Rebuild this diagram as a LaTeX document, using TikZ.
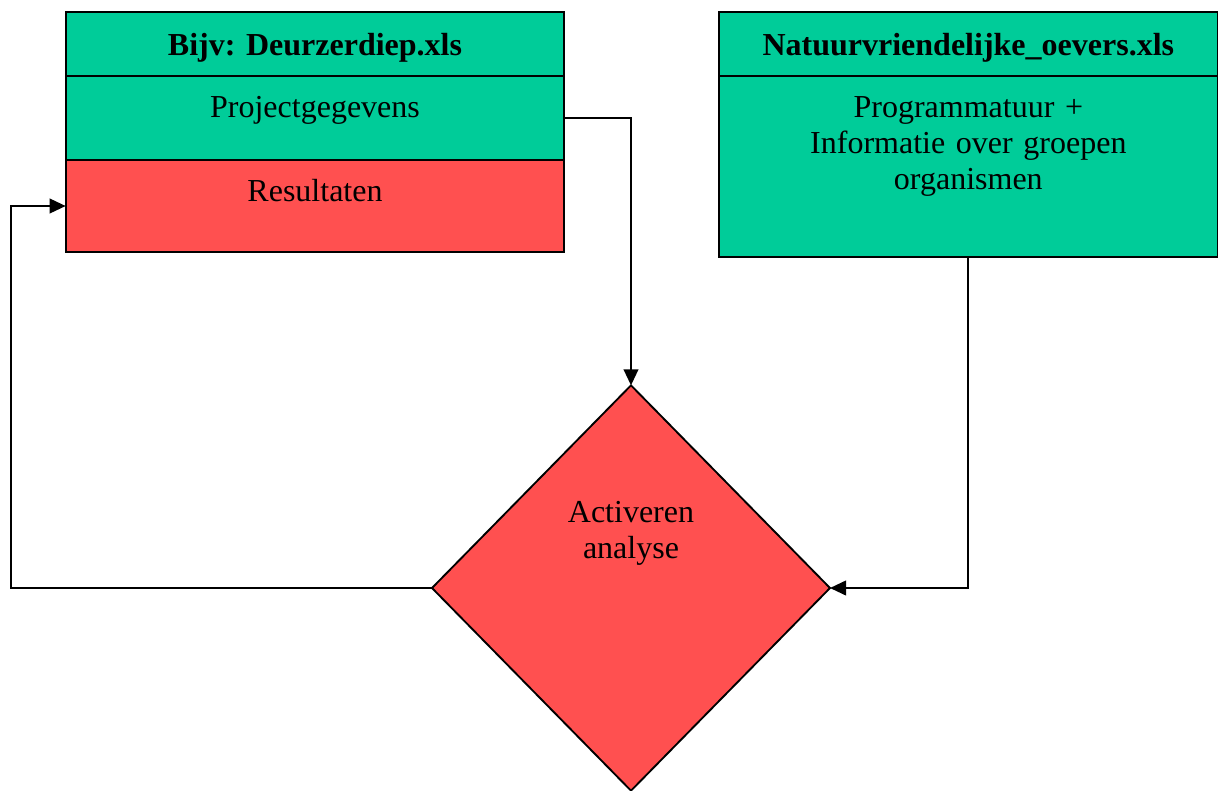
\documentclass[tikz,border=0pt]{standalone}
\usepackage{fontspec}
\setmainfont{Liberation Serif}
\usepackage{tikz}
\usetikzlibrary{positioning,shapes,arrows.meta}
\definecolor{Groen}{RGB}{0,204,153}
\definecolor{Rood}{RGB}{255,80,80}
\frenchspacing
\tikzstyle{blok}=[%
      rectangle, draw=black, line width=1.4pt, inner sep=0pt, outer sep=0pt,
      text width=374pt, align=center, font=\fontsize{24}{27}\selectfont
]
\tikzstyle{kop}=[%
      blok, fill=Groen, font=\fontsize{24}{27}\selectfont\bfseries,
      text height=32.25pt, text depth=15.75pt
]
\tikzstyle{inhoud}=[%
      blok, text height=30.75pt
]
\tikzstyle{keuze}=[%
      diamond, draw=black, line width=1.4pt, fill=Rood, inner sep=0pt, outer sep=0pt,
      minimum width=298.5pt, minimum height=304pt
]
\tikzstyle{pijl}=[->, draw=black, line width=1.4pt]

\begin{document}
\begin{tikzpicture}[auto,
    >={Triangle[length=12pt,width=11pt]}
  ]
    \useasboundingbox (0,0) rectangle (913.5pt,-592.5pt);

    \node[kop]                        (kop1) at (236.25pt,-33pt)  {Bijv: Deurzerdiep.xls};
    \node[inhoud, fill=Groen, text depth=32.25pt] (proj) [below=0pt of kop1] {Projectgegevens};
    \node[inhoud, fill=Rood, text depth=38.25pt]  (res)  [below=0pt of proj] {Resultaten};

    \node[kop]                        (kop2) [right=116pt of kop1] {Natuurvriendelijke\_oevers.xls};
    \node[inhoud, fill=Groen, text depth=105pt]   (prog) [below=0pt of kop2]
          {Programmatuur +\\Informatie over groepen\\organismen};

    \node[keuze, label={[align=center, font=\fontsize{24}{27}\selectfont, yshift=41.25pt]center:Activeren\\analyse}]
          (act) at (473.25pt,-441pt) {};

    \draw[pijl] (proj.east) -| (act.north);
    \draw[pijl] (prog.south) |- (act.east);
    \draw[pijl] (act.west) -| ([xshift=-41.25pt]res.west) -- (res.west);

  \end{tikzpicture}
\end{document}
